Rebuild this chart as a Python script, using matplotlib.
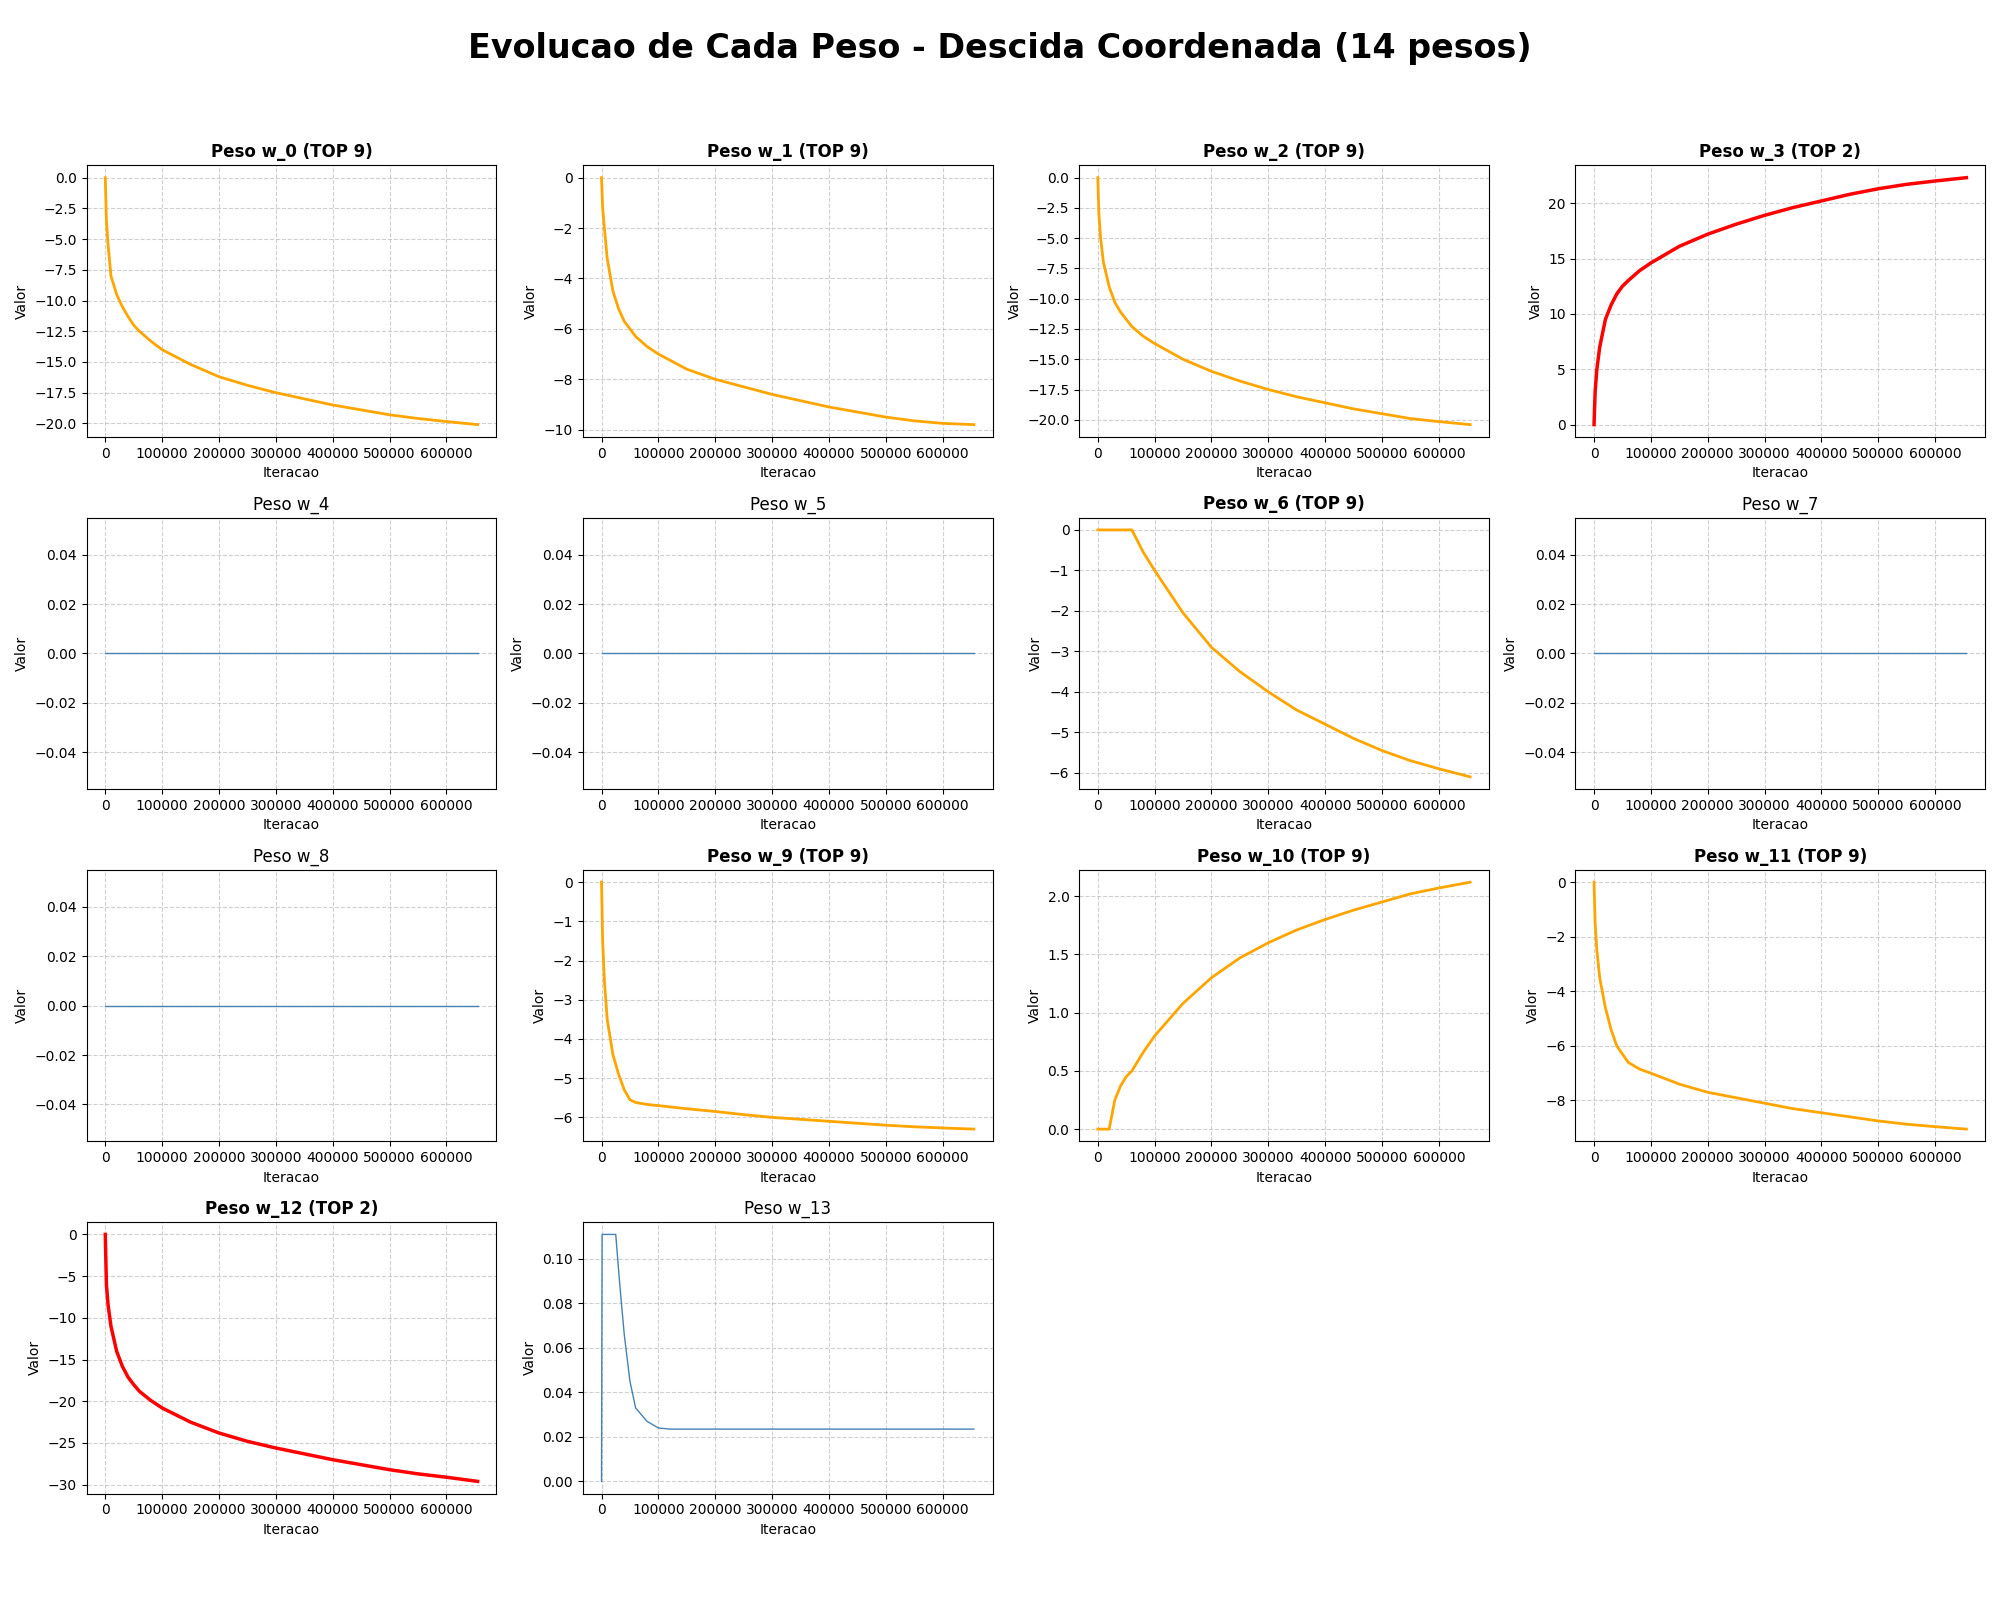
import numpy as np
import matplotlib
matplotlib.use("Agg")
import matplotlib.pyplot as plt

# iteration sample points
iters = [0, 2000, 5000, 10000, 20000, 30000, 40000, 50000, 60000, 80000, 100000, 150000,
         200000, 250000, 300000, 350000, 400000, 450000, 500000, 550000, 600000, 655000]

w0 = [0, -3.5, -5.5, -8, -9.5, -10.5, -11.3, -12, -12.5, -13.3, -14, -15.2,
      -16.2, -16.9, -17.5, -18.0, -18.5, -18.9, -19.3, -19.6, -19.85, -20.1]
w1 = [0, -1.2, -2, -3.2, -4.5, -5.2, -5.7, -6, -6.3, -6.7, -7, -7.6,
      -8, -8.3, -8.6, -8.85, -9.1, -9.3, -9.5, -9.65, -9.75, -9.8]
w2 = [0, -3, -5, -7, -9, -10.3, -11.1, -11.7, -12.3, -13.1, -13.7, -15,
      -16, -16.8, -17.5, -18.1, -18.6, -19.1, -19.5, -19.9, -20.15, -20.4]
w3 = [0, 3, 5, 7, 9.5, 10.8, 11.8, 12.5, 13, 13.9, 14.6, 16.1,
      17.2, 18.1, 18.9, 19.6, 20.2, 20.8, 21.3, 21.7, 22.0, 22.3]
w4 = [0] * len(iters)
w5 = [0] * len(iters)
w6 = [0, 0, 0, 0, 0, 0, 0, 0, 0, -0.55, -1.0, -2.05,
      -2.9, -3.5, -4.0, -4.45, -4.8, -5.15, -5.45, -5.7, -5.9, -6.1]
w7 = [0] * len(iters)
w8 = [0] * len(iters)
w9 = [0, -1.5, -2.5, -3.5, -4.4, -4.9, -5.3, -5.55, -5.62, -5.67, -5.7, -5.78,
      -5.85, -5.93, -6.0, -6.05, -6.1, -6.15, -6.2, -6.24, -6.27, -6.3]
w10 = [0, 0, 0, 0, 0, 0.25, 0.37, 0.45, 0.5, 0.66, 0.8, 1.08,
       1.3, 1.47, 1.6, 1.71, 1.8, 1.88, 1.95, 2.02, 2.07, 2.12]
w11 = [0, -1.5, -2.5, -3.5, -4.6, -5.4, -6.0, -6.3, -6.6, -6.85, -7.0, -7.4,
       -7.7, -7.9, -8.1, -8.3, -8.45, -8.6, -8.75, -8.87, -8.96, -9.05]
w12 = [0, -6, -8.5, -11, -14, -15.8, -17.1, -18, -18.8, -19.9, -20.8, -22.5,
       -23.8, -24.8, -25.6, -26.3, -27, -27.6, -28.2, -28.7, -29.1, -29.6]

iters13 = [0, 1000, 25000, 30000, 35000, 40000, 50000, 60000, 70000, 80000, 90000, 100000, 120000, 655000]
w13 = [0, 0.111, 0.111, 0.095, 0.08, 0.066, 0.045, 0.033, 0.030, 0.027, 0.0255, 0.024, 0.0235, 0.0235]

weights = [w0, w1, w2, w3, w4, w5, w6, w7, w8, w9, w10, w11, w12, w13]
xs = [iters] * 13 + [iters13]
top2 = [3, 12]
top9 = [0, 1, 2, 6, 9, 10, 11]

fig, axes = plt.subplots(4, 4, figsize=(20, 16), dpi=100)
axes = axes.flatten()

for i, w in enumerate(weights):
    ax = axes[i]
    if i in top2:
        ax.plot(xs[i], w, color='red', linewidth=2.5)
        ax.set_title(f"Peso w_{i} (TOP 2)", fontsize=12, fontweight='bold')
    elif i in top9:
        ax.plot(xs[i], w, color='orange', linewidth=2)
        ax.set_title(f"Peso w_{i} (TOP 9)", fontsize=12, fontweight='bold')
    else:
        ax.plot(xs[i], w, color='steelblue', linewidth=1)
        ax.set_title(f"Peso w_{i}", fontsize=12)
    ax.set_xlabel("Iteracao")
    ax.set_ylabel("Valor")
    ax.grid(True, linestyle='--', alpha=0.6)

for j in range(len(weights), 16):
    axes[j].axis('off')

fig.suptitle("Evolucao de Cada Peso - Descida Coordenada (14 pesos)", fontsize=24, fontweight='bold')
plt.tight_layout(rect=[0, 0.03, 1, 0.95])
plt.savefig("out.png")
